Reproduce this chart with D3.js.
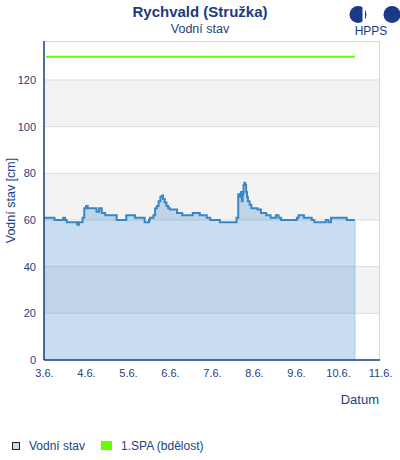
<!DOCTYPE html>
<html>
<head>
<meta charset="utf-8">
<script src="https://d3js.org/d3.v7.min.js"></script>
<style>
body { margin:0; background:#fff; }
text { font-family: "Liberation Sans", Arial, sans-serif; }
</style>
</head>
<body>
<div id="chart"></div>
<script>
// measured series (time, water level cm)
var times = ["3.6. 00:00","3.6. 06:00","3.6. 11:00","3.6. 12:00","3.6. 13:00","3.6. 19:00","3.6. 20:00","3.6. 22:00","3.6. 23:00",
    "4.6. 00:00","4.6. 01:00","4.6. 06:00","4.6. 07:30","4.6. 09:00","4.6. 11:00","4.6. 17:30","4.6. 23:00",
    "5.6. 04:00","5.6. 09:30","5.6. 12:00","5.6. 12:30","5.6. 14:30","5.6. 15:30","5.6. 16:30","5.6. 17:30","5.6. 18:30","5.6. 19:30","5.6. 20:00","5.6. 21:00","5.6. 22:00","5.6. 23:00",
    "6.6. 00:00","6.6. 04:00","6.6. 07:00","6.6. 13:00","6.6. 17:00","6.6. 21:00","6.6. 23:00",
    "7.6. 04:30","7.6. 14:00","7.6. 15:00","7.6. 15:30","7.6. 16:30","7.6. 17:00","7.6. 17:30","7.6. 18:00","7.6. 18:30","7.6. 19:00","7.6. 19:30","7.6. 20:00","7.6. 20:30","7.6. 21:30","7.6. 22:30",
    "8.6. 02:00","8.6. 04:00","8.6. 07:00","8.6. 09:30","8.6. 12:30","8.6. 14:00","8.6. 15:30",
    "9.6. 00:30","9.6. 01:30","9.6. 04:30","9.6. 09:00","9.6. 10:30","9.6. 17:00","9.6. 18:30","9.6. 20:00",
    "10.6. 05:00","10.6. 09:40"];
var levels = [61,60,61,60,59,58,59,61,65,
    66,65,63.5,65,63,62,60,62,
    61,59,60,61,62,65,66,68,70,70.5,69,67.5,66,65,
    64.5,63,62,63,62,61,60,
    59,61,71,70,72,68,71,75,76,75,72,70,68,66.5,65,
    64.5,63,62,61,62,61,60,
    61,62,61,60,59,60,59,61,
    60,60];

var spaLevel = 130;  // 1.SPA (bdělost)
var yTicks = [0,20,40,60,80,100,120];
var yMax = 136.7;
var dayTicks = ["3.6.","4.6.","5.6.","6.6.","7.6.","8.6.","9.6.","10.6.","11.6."];

var parseTime = d3.timeParse("%d.%m. %H:%M");
var parseDay = d3.timeParse("%d.%m.");

var data = times.map(function(t,i){ return {date: parseTime(t), value: levels[i]}; });

var W = 400, H = 460;
var margin = {t:41, l:44, r:20, b:100};
var width = W - margin.l - margin.r,
    height = H - margin.t - margin.b;

var textColor = "#22427f";

var svg = d3.select("#chart").append("svg")
    .attr("width", W)
    .attr("height", H);

var x = d3.scaleTime()
    .domain([parseDay(dayTicks[0]), parseDay(dayTicks[dayTicks.length-1])])
    .range([0, width]);

var y = d3.scaleLinear()
    .domain([0, yMax])
    .range([height, 0]);

var g = svg.append("g")
    .attr("transform", "translate(" + margin.l + "," + margin.t + ")");

// alternating bands
for (var i = 0; i < yTicks.length - 1; i++) {
    if (i % 2 == 1) {
        g.append("rect")
            .attr("x", 0)
            .attr("width", width)
            .attr("y", y(yTicks[i+1]))
            .attr("height", y(yTicks[i]) - y(yTicks[i+1]))
            .attr("fill", "#f3f3f3");
    }
}

g.selectAll(".grid")
    .data(yTicks.slice(1))
    .enter().append("line")
    .attr("x1", 0).attr("x2", width)
    .attr("y1", function(d){ return y(d); })
    .attr("y2", function(d){ return y(d); })
    .attr("stroke", "#dcdcdc")
    .attr("stroke-width", 1);

// border top/right
g.append("path")
    .attr("d", "M0,0.5H" + (width-0.5) + "V" + height)
    .attr("fill", "none")
    .attr("stroke", "#d6d6d6");

var area = d3.area()
    .curve(d3.curveStepAfter)
    .x(function(d){ return x(d.date); })
    .y0(y(0))
    .y1(function(d){ return y(d.value); });

var line = d3.line()
    .curve(d3.curveStepAfter)
    .x(function(d){ return x(d.date); })
    .y(function(d){ return y(d.value); });

g.append("path")
    .attr("d", area(data))
    .attr("fill", "#3a87c8")
    .attr("fill-opacity", 0.28);

var last = data[data.length-1];
g.append("line")
    .attr("x1", x(last.date)).attr("x2", x(last.date))
    .attr("y1", y(last.value)).attr("y2", y(0))
    .attr("stroke", "#9ec6ea")
    .attr("stroke-width", 1);

g.append("path")
    .attr("d", line(data))
    .attr("fill", "none")
    .attr("stroke", "#3a86c4")
    .attr("stroke-width", 2);

// SPA line
g.append("line")
    .attr("x1", x(data[0].date) + 2).attr("x2", x(last.date))
    .attr("y1", y(spaLevel)).attr("y2", y(spaLevel))
    .attr("stroke", "#66ff00")
    .attr("stroke-width", 2);

// axes
var yAxis = g.append("g")
    .call(d3.axisLeft(y).tickValues(yTicks).tickSize(0).tickPadding(8));
yAxis.select(".domain").remove();
yAxis.selectAll("text")
    .attr("fill", textColor)
    .style("font-size", "11px")
    .style("font-family", "Liberation Sans, Arial, sans-serif");

var xAxis = g.append("g")
    .attr("transform", "translate(0," + height + ")")
    .call(d3.axisBottom(x)
        .tickValues(dayTicks.map(function(d){ return parseDay(d); }))
        .tickFormat(function(d, i){ return dayTicks[i]; })
        .tickSize(0).tickPadding(9));
xAxis.select(".domain").remove();
xAxis.selectAll("text")
    .attr("fill", textColor)
    .style("font-size", "11px")
    .style("font-family", "Liberation Sans, Arial, sans-serif");

g.append("line")
    .attr("x1", 0).attr("x2", 0)
    .attr("y1", 0).attr("y2", height)
    .attr("stroke", "#1b3a86")
    .attr("stroke-width", 1.5);
g.append("line")
    .attr("x1", 0).attr("x2", width)
    .attr("y1", height).attr("y2", height)
    .attr("stroke", "#1b3a86")
    .attr("stroke-width", 1.5);

// titles
svg.append("text")
    .attr("x", 200).attr("y", 17)
    .attr("text-anchor", "middle")
    .attr("fill", "#1c3a7c")
    .style("font-size", "15px")
    .style("font-weight", "bold")
    .text("Rychvald (Stružka)");

svg.append("text")
    .attr("x", 200).attr("y", 33)
    .attr("text-anchor", "middle")
    .attr("fill", textColor)
    .style("font-size", "12.5px")
    .text("Vodní stav");

svg.append("text")
    .attr("transform", "translate(15," + (margin.t + height/2) + ") rotate(-90)")
    .attr("text-anchor", "middle")
    .attr("fill", textColor)
    .style("font-size", "12.5px")
    .text("Vodní stav [cm]");

svg.append("text")
    .attr("x", 379).attr("y", 404)
    .attr("text-anchor", "end")
    .attr("fill", textColor)
    .style("font-size", "13px")
    .text("Datum");

// logo
var logo = svg.append("g").attr("fill", "#1a3a86");
logo.append("circle").attr("cx", 358).attr("cy", 14.5).attr("r", 8.5);
logo.append("rect").attr("x", 362.5).attr("y", 5).attr("width", 2.5).attr("height", 19).attr("fill", "#fff");
logo.append("circle").attr("cx", 392).attr("cy", 14.5).attr("r", 8.5);
svg.append("text")
    .attr("x", 371).attr("y", 35)
    .attr("text-anchor", "middle")
    .attr("fill", "#1a3a86")
    .style("font-size", "12px")
    .text("HPPS");

// legend
var leg = svg.append("g");
leg.append("rect")
    .attr("x", 12.5).attr("y", 442.5).attr("width", 7).attr("height", 7)
    .attr("fill", "#c8ddf0").attr("stroke", "#222").attr("stroke-width", 1);
leg.append("text")
    .attr("x", 29).attr("y", 450)
    .attr("fill", textColor)
    .style("font-size", "12px")
    .text("Vodní stav");
leg.append("rect")
    .attr("x", 101).attr("y", 441).attr("width", 11).attr("height", 9)
    .attr("fill", "#66ff00");
leg.append("text")
    .attr("x", 121).attr("y", 450)
    .attr("fill", textColor)
    .style("font-size", "12px")
    .text("1.SPA (bdělost)");
</script>
</body>
</html>
